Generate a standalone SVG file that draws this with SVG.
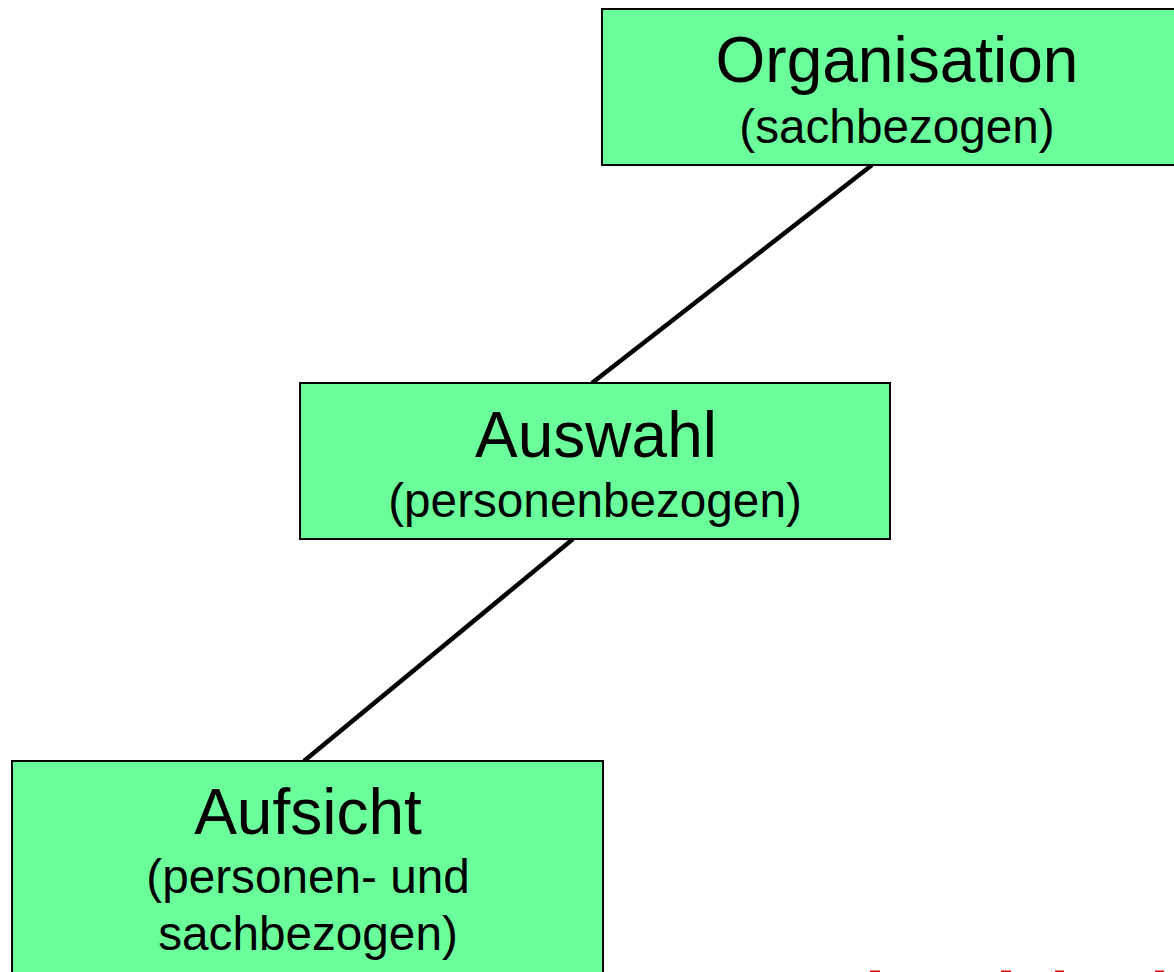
<svg xmlns="http://www.w3.org/2000/svg" width="1174" height="972" viewBox="0 0 1174 972">
<style>
.box{fill:#6aff9a;stroke:#000;stroke-width:2}
.t1{font-family:"Liberation Sans",Arial,sans-serif;font-size:64px;fill:#000;text-anchor:middle}
.t2{font-family:"Liberation Sans",Arial,sans-serif;font-size:47.7px;fill:#000;text-anchor:middle}
.conn{stroke:#000;stroke-width:4.5;fill:none}
</style>
<rect width="1174" height="972" fill="#fff"/>
<g id="connectors">
<line class="conn" x1="872" y1="165" x2="592" y2="383"/>
<line class="conn" x1="573" y1="539" x2="304" y2="761"/>
</g>
<g id="organisation">
<rect class="box" x="602" y="9" width="592" height="156"/>
<text class="t1" x="897" y="82">Organisation</text>
<text class="t2" x="897" y="143">(sachbezogen)</text>
</g>
<g id="auswahl">
<rect class="box" x="300" y="383" width="590" height="156"/>
<text class="t1" x="596" y="457">Auswahl</text>
<text class="t2" x="595" y="517">(personenbezogen)</text>
</g>
<g id="aufsicht">
<rect class="box" x="12" y="761" width="591" height="230"/>
<text class="t1" x="308" y="834">Aufsicht</text>
<text class="t2" x="308" y="893">(personen- und</text>
<text class="t2" x="308" y="950">sachbezogen)</text>
</g>
<g id="marks" fill="#e00000">
<rect x="870" y="970.5" width="10" height="1.5"/>
<rect x="1001" y="970.5" width="10" height="1.5"/>
<rect x="1055" y="970.5" width="9" height="1.5"/>
<rect x="1155" y="970.5" width="9" height="1.5"/>
</g>
</svg>
